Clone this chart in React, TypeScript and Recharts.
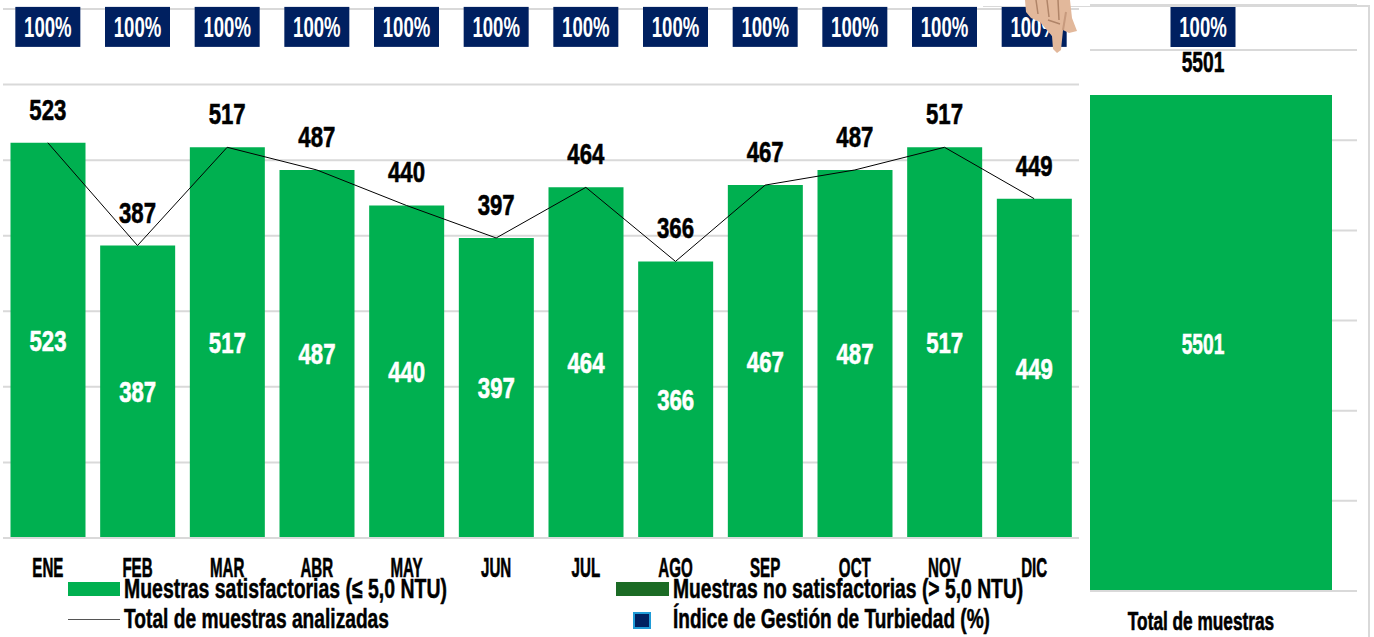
import {
  Bar,
  CartesianGrid,
  ComposedChart,
  LabelList,
  Legend,
  Line,
  XAxis,
  YAxis,
} from "recharts";

const months = ["ENE", "FEB", "MAR", "ABR", "MAY", "JUN", "JUL", "AGO", "SEP", "OCT", "NOV", "DIC"];
const satisfactory = [523, 387, 517, 487, 440, 397, 464, 366, 467, 487, 517, 449];
const unsatisfactory = [0, 0, 0, 0, 0, 0, 0, 0, 0, 0, 0, 0];
const analyzed = [523, 387, 517, 487, 440, 397, 464, 366, 467, 487, 517, 449];
const turbidityIndex = [100, 100, 100, 100, 100, 100, 100, 100, 100, 100, 100, 100];

const totalCategories = ["Total de muestras"];
const totalSatisfactory = [5501];
const totalUnsatisfactory = [0];
const totalAnalyzed = [5501];
const totalIndex = [100];

const monthTicks = [0, 100, 200, 300, 400, 500, 600, 700];
const totalTicks = [0, 1000, 2000, 3000, 4000, 5000, 6000];

const GREEN = "#00B050";
const DARK_GREEN = "#1B6B25";
const NAVY = "#002060";
const GRID = "#D9D9D9";
const FONT = "'Liberation Sans', sans-serif";

const monthly = months.map((month, i) => ({
  month,
  satisfactory: satisfactory[i],
  unsatisfactory: unsatisfactory[i],
  analyzed: analyzed[i],
  index: turbidityIndex[i],
}));

const totals = totalCategories.map((month, i) => ({
  month,
  satisfactory: totalSatisfactory[i],
  unsatisfactory: totalUnsatisfactory[i],
  analyzed: totalAnalyzed[i],
  index: totalIndex[i],
}));

// no condensed font is installed, so the text is squeezed horizontally
const Narrow = ({ x, y, scale, size, fill, heavy, children }: any) => (
  <text
    transform={`translate(${x} ${y}) scale(${scale} 1)`}
    textAnchor="middle"
    fill={fill}
    stroke={heavy ? fill : "none"}
    strokeWidth={heavy ? 0.6 : 0}
    fontFamily={FONT}
    fontWeight={700}
    fontSize={size}
  >
    {children}
  </text>
);

const IndexBadge = ({ cx, cy, payload }: any) => (
  <g key={payload.month}>
    <rect x={cx - 32.5} y={cy - 20} width={65} height={40} fill={NAVY} />
    <Narrow x={cx} y={cy + 10} scale={0.62} size={30} fill="#fff">
      {payload.index}%
    </Narrow>
  </g>
);

const ValueLabel = ({ x, y, width, height, value, fill, dy, scale }: any) => (
  <Narrow x={x + (width || 0) / 2} y={y + (height || 0) / 2 + dy} scale={scale} size={30} fill={fill} heavy>
    {value}
  </Narrow>
);

const MonthTick = ({ x, y, payload }: any) => (
  <Narrow x={x} y={y + 31} scale={0.54} size={28} fill="#000" heavy>
    {payload.value}
  </Narrow>
);

const TotalTick = ({ x, y, payload }: any) => (
  <Narrow x={x - 2} y={y + 31} scale={0.69} size={25} fill="#000" heavy>
    {payload.value}
  </Narrow>
);

const LegendText = ({ left, top, scale, children }: any) => (
  <div
    style={{
      position: "absolute",
      left,
      top,
      fontFamily: FONT,
      fontWeight: 700,
      fontSize: 27,
      lineHeight: "30px",
      color: "#000",
      WebkitTextStroke: "0.5px #000",
      whiteSpace: "nowrap",
      transform: `scaleX(${scale})`,
      transformOrigin: "left center",
    }}
  >
    {children}
  </div>
);

// zero height so the legend does not take room from the plot
const LegendBox = () => (
  <div style={{ position: "relative", width: 1090, height: 0 }}>
    <div style={{ position: "absolute", left: 68, top: 2, width: 52, height: 14, background: GREEN }} />
    <LegendText left={124} top={-6} scale={0.72}>Muestras satisfactorias (≤ 5,0 NTU)</LegendText>
    <div style={{ position: "absolute", left: 616, top: 2, width: 53, height: 14, background: DARK_GREEN }} />
    <LegendText left={673} top={-6} scale={0.715}>Muestras no satisfactorias (&gt; 5,0 NTU)</LegendText>
    <div style={{ position: "absolute", left: 68, top: 39, width: 52, height: 1, background: "#555" }} />
    <LegendText left={124} top={24} scale={0.71}>Total de muestras analizadas</LegendText>
    <div style={{ position: "absolute", left: 633, top: 32, width: 14, height: 13, background: NAVY, border: "2px solid #1F9BD7" }} />
    <LegendText left={673} top={24} scale={0.705}>Índice de Gestión de Turbiedad (%)</LegendText>
  </div>
);

// the pointing hand pasted over the last badge
const Hand = () => (
  <svg width={60} height={60} style={{ position: "absolute", left: 1022, top: 0 }}>
    <path
      d="M3 0 L4 12 L9 18 L18 22 L30 36 L31 49 L35 53 L39 50 L41 30 L47 33 L55 31 L50 18 L48 0 Z"
      fill="#E2B89B"
    />
    <path d="M14 0 L16 14 M25 0 L27 17 M36 0 L37 20 M26 20 L38 24" stroke="#B08468" strokeWidth={1.5} fill="none" />
    <path d="M41 30 L44 12" stroke="#C79A7E" strokeWidth={2} fill="none" />
  </svg>
);

export default function App() {
  return (
    <div style={{ position: "absolute", left: 0, top: 0, width: 1374, height: 637, background: "#fff", overflow: "hidden" }}>
      <div style={{ position: "absolute", left: 1049, top: 0 }}>
        <ComposedChart width={325} height={637} data={totals} margin={{ top: 5, right: 17, bottom: 16, left: 0 }} barCategoryGap={25}>
          <CartesianGrid yAxisId="count" horizontal vertical={false} stroke={GRID} strokeWidth={2} />
          <XAxis dataKey="month" height={30} axisLine={{ stroke: GRID, strokeWidth: 2 }} tickLine={false} tick={<TotalTick />} />
          <YAxis yAxisId="count" hide domain={[0, 6500]} ticks={totalTicks} />
          <YAxis yAxisId="index" hide orientation="right" domain={[0, 103.9]} />
          <Bar yAxisId="count" dataKey="satisfactory" stackId="a" fill={GREEN} isAnimationActive={false}>
            <LabelList dataKey="satisfactory" content={(p: any) => <ValueLabel {...p} fill="#fff" dy={10.5} scale={0.64} />} />
          </Bar>
          <Bar yAxisId="count" dataKey="unsatisfactory" stackId="a" fill={DARK_GREEN} isAnimationActive={false} />
          <Line yAxisId="count" dataKey="analyzed" stroke="none" dot={{ r: 0 }} isAnimationActive={false}>
            <LabelList dataKey="analyzed" content={(p: any) => <ValueLabel {...p} fill="#000" dy={-23} scale={0.64} />} />
          </Line>
          <Line yAxisId="index" dataKey="index" stroke="none" dot={IndexBadge} isAnimationActive={false} />
        </ComposedChart>
      </div>
      <div style={{ position: "absolute", left: 0, top: 0, width: 1090, height: 637, background: "#fff" }}>
        <ComposedChart width={1090} height={637} data={monthly} margin={{ top: 9, right: 11, bottom: 69, left: 3 }} barCategoryGap={7.5}>
          <CartesianGrid yAxisId="count" horizontal vertical={false} stroke={GRID} strokeWidth={2} />
          <XAxis dataKey="month" height={30} axisLine={{ stroke: GRID, strokeWidth: 2 }} tickLine={false} tick={<MonthTick />} interval={0} />
          <YAxis yAxisId="count" hide domain={[0, 700]} ticks={monthTicks} />
          <YAxis yAxisId="index" hide orientation="right" domain={[0, 103.5]} />
          <Bar yAxisId="count" dataKey="satisfactory" name="Muestras satisfactorias (≤ 5,0 NTU)" stackId="a" fill={GREEN} isAnimationActive={false}>
            <LabelList dataKey="satisfactory" content={(p: any) => <ValueLabel {...p} fill="#fff" dy={10.5} scale={0.74} />} />
          </Bar>
          <Bar yAxisId="count" dataKey="unsatisfactory" name="Muestras no satisfactorias (> 5,0 NTU)" stackId="a" fill={DARK_GREEN} isAnimationActive={false} />
          <Line yAxisId="count" dataKey="analyzed" name="Total de muestras analizadas" stroke="#000" strokeWidth={1} dot={false} isAnimationActive={false}>
            <LabelList dataKey="analyzed" content={(p: any) => <ValueLabel {...p} fill="#000" dy={-23} scale={0.74} />} />
          </Line>
          <Line yAxisId="index" dataKey="index" name="Índice de Gestión de Turbiedad (%)" stroke="none" dot={IndexBadge} isAnimationActive={false} />
          <Legend content={<LegendBox />} wrapperStyle={{ position: "absolute", left: 0, top: 580, width: 1090 }} />
        </ComposedChart>
      </div>
      <div style={{ position: "absolute", left: 983, top: 6, width: 107, height: 1, background: GRID }} />
      <div style={{ position: "absolute", left: 1090, top: 5, width: 280, height: 2, background: GRID }} />
      <div style={{ position: "absolute", left: 1368, top: 5, width: 2, height: 632, background: GRID }} />
      <Hand />
    </div>
  );
}
